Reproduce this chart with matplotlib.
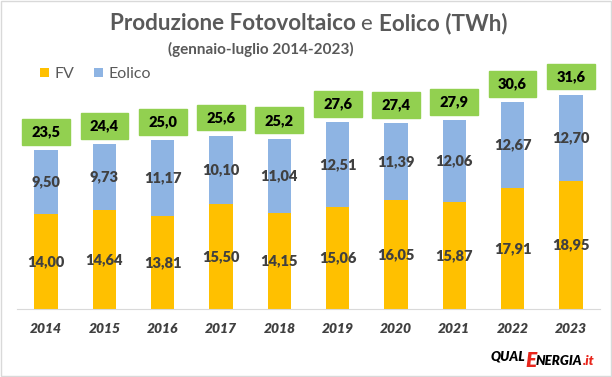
import matplotlib.pyplot as plt
from matplotlib.patches import Rectangle

# data
years = ["2014", "2015", "2016", "2017", "2018", "2019", "2020", "2021", "2022", "2023"]
fv = [14.00, 14.64, 13.81, 15.50, 14.15, 15.06, 16.05, 15.87, 17.91, 18.95]
eolico = [9.50, 9.73, 11.17, 10.10, 11.04, 12.51, 11.39, 12.06, 12.67, 12.70]
totals = [23.5, 24.4, 25.0, 25.6, 25.2, 27.6, 27.4, 27.9, 30.6, 31.6]

plt.rcParams['font.family'] = ['Lato', 'DejaVu Sans']

W, H = 612, 377
fig = plt.figure(figsize=(W / 100, H / 100), dpi=100)
renderer = fig.canvas.get_renderer()


def px(xp, yp):
    # pixel from top-left -> figure fraction
    return xp / W, 1 - yp / H


def run(x0, y0, parts, va="baseline"):
    # place pieces of text one after another, starting at pixel x0
    xc = x0
    for s, kw in parts:
        t = fig.text(*px(xc, y0), s, ha="left", va=va, **kw)
        xc += t.get_window_extent(renderer).width
    return xc


# axes placed in pixel terms (left 17, right 600, top 60, baseline 309)
ax = fig.add_axes([17 / W, 1 - 309 / H, (600 - 17) / W, (309 - 60) / H])
ax.set_xlim(-0.5, 9.5)
ax.set_ylim(0, 36.8)

x = list(range(len(years)))
ax.bar(x, fv, width=0.4, color="#FFC000", label="FV")
ax.bar(x, eolico, width=0.4, bottom=fv, color="#8EB4E3", label="Eolico")

lab = dict(ha="center", va="center", fontsize=10.5, fontweight="heavy", color="#404040")
for i in x:
    ax.text(i, fv[i] / 2, f"{fv[i]:.2f}".replace(".", ","), **lab)
    ax.text(i, fv[i] + eolico[i] / 2, f"{eolico[i]:.2f}".replace(".", ","), **lab)
    top = fv[i] + eolico[i]
    yc = top + 2.7
    ax.add_patch(Rectangle((i - 0.41, yc - 1.9), 0.82, 3.8, color="#92D050",
                           clip_on=False, zorder=3))
    ax.text(i, yc, f"{totals[i]:.1f}".replace(".", ","), ha="center", va="center",
            fontsize=10.5, fontweight="heavy", color="black", zorder=4)

ax.set_xticks(x)
ax.set_xticklabels(years, fontsize=10, fontweight="heavy", fontstyle="italic", color="#404040")
ax.tick_params(axis="x", length=0, pad=10)
ax.set_yticks([])
for s in ["left", "right", "top"]:
    ax.spines[s].set_visible(False)
ax.spines["bottom"].set_color("#D9D9D9")

# titles
tb = dict(fontsize=16.2, fontweight="bold", color="#595959")
run(110, 30, [("Produzione Fotovoltaico ", tb),
              ("e ", dict(fontsize=16.2, color="#595959")),
              ("Eolico (TWh)", tb)])
fig.text(*px(261, 49), "(gennaio-luglio 2014-2023)", ha="center", va="center",
         fontsize=11, fontweight="bold", color="#595959")

# legend
leg = fig.legend(loc="center left", bbox_to_anchor=px(26, 74), ncol=2, frameon=False,
                 fontsize=11.5, handlelength=0.55, handleheight=0.55, handletextpad=0.35,
                 columnspacing=1.2, labelcolor="#595959")

# logo
it = dict(fontweight="heavy", fontstyle="italic", color="black")
xe = run(491, 361, [("QUAL", dict(fontsize=9.5, **it))])
xe = run(xe, 367, [("E", dict(fontsize=15, fontweight="heavy", fontstyle="italic",
                              color="#E8261C"))])
run(xe - 1, 365, [("NERGIA", dict(fontsize=9.5, **it)),
                  (".it", dict(fontsize=9.5, fontweight="heavy", fontstyle="italic",
                               color="#E8261C"))])

# outer frame
fig.patches.append(Rectangle((0.002, 0.003), 0.996, 0.994, transform=fig.transFigure,
                             fill=False, edgecolor="#D9D9D9", linewidth=1))

fig.savefig("out.png", dpi=100)
